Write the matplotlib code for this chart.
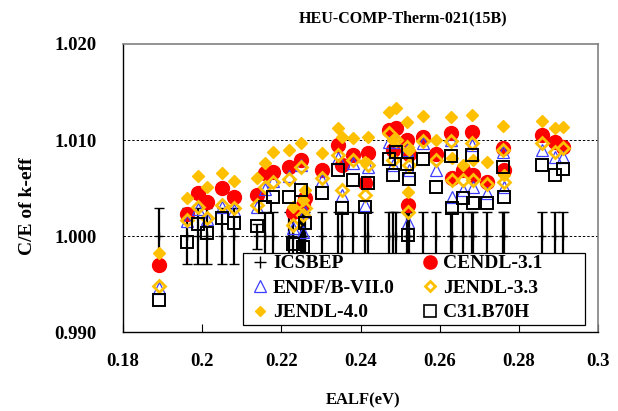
import matplotlib
matplotlib.use("Agg")
import matplotlib.pyplot as plt
from matplotlib.lines import Line2D
from matplotlib.patches import Rectangle

plt.rcParams['font.family'] = ['Liberation Serif', 'DejaVu Serif']
plt.rcParams['font.weight'] = 'bold'

# Energy of average lethargy causing fission (eV) for each benchmark case
ealf = [0.1891, 0.1962, 0.1989, 0.2012, 0.2050, 0.2080, 0.2138, 0.2159, 0.2179, 0.2219,
        0.2229, 0.2249, 0.2254, 0.2260, 0.2302, 0.2343, 0.2353, 0.2381, 0.2411, 0.2419,
        0.2472, 0.2482, 0.2489, 0.2517, 0.2520, 0.2522, 0.2558, 0.2590, 0.2628, 0.2631,
        0.2659, 0.2681, 0.2684, 0.2719, 0.2760, 0.2762, 0.2858, 0.2891, 0.2911]

# Benchmark (experimental) k-eff normalised to 1 and its uncertainty
icsbep = [1.0, 1.0, 1.0, 1.0, 1.0, 1.0, 1.0, 1.0, 1.0, 1.0,
          1.0, 1.0, 1.0, 1.0, 1.0, 1.0, 1.0, 1.0, 1.0, 1.0,
          1.0, 1.0, 1.0, 1.0, 1.0, 1.0, 1.0, 1.0, 1.0, 1.0,
          1.0, 1.0, 1.0, 1.0, 1.0, 1.0, 1.0, 1.0, 1.0]
icsbep_unc = [0.0029, 0.0029, 0.0029, 0.0029, 0.0029, 0.0029, 0.0013, 0.0025, 0.0025, 0.0025,
              0.0025, 0.0025, 0.0025, 0.0025, 0.0025, 0.0025, 0.0025, 0.0025, 0.0025, 0.0025,
              0.0025, 0.0025, 0.0025, 0.0025, 0.0025, 0.0025, 0.0025, 0.0025, 0.0025, 0.0025,
              0.0025, 0.0025, 0.0025, 0.0025, 0.0025, 0.0025, 0.0025, 0.0025, 0.0025]

cendl31 = [0.9970, 1.0023, 1.0045, 1.0035, 1.0050, 1.0041, 1.0043, 1.0066, 1.0067, 1.0072,
           1.0025, 1.0079, 1.0032, 1.0040, 1.0069, 1.0095, 1.0074, 1.0084, 1.0055, 1.0086,
           1.0110, 1.0090, 1.0113, 1.0100, 1.0032, 1.0085, 1.0103, 1.0085, 1.0107, 1.0060,
           1.0069, 1.0108, 1.0064, 1.0056, 1.0092, 1.0069, 1.0105, 1.0098, 1.0093]

endf70 = [0.9946, 1.0016, 1.0028, 1.0018, 1.0030, 1.0027, 1.0030, 1.0049, 1.0057, 1.0063,
          1.0008, 1.0074, 1.0004, 1.0025, 1.0058, 1.0081, 1.0043, 1.0076, 1.0032, 1.0072,
          1.0098, 1.0074, 1.0098, 1.0090, 1.0015, 1.0069, 1.0097, 1.0069, 1.0100, 1.0041,
          1.0048, 1.0095, 1.0051, 1.0045, 1.0088, 1.0051, 1.0090, 1.0082, 1.0082]

jendl33 = [0.9948, 1.0017, 1.0030, 1.0019, 1.0032, 1.0029, 1.0032, 1.0051, 1.0056, 1.0059,
           1.0011, 1.0072, 1.0022, 1.0029, 1.0060, 1.0084, 1.0048, 1.0079, 1.0043, 1.0074,
           1.0107, 1.0079, 1.0100, 1.0093, 1.0025, 1.0074, 1.0099, 1.0079, 1.0099, 1.0058,
           1.0058, 1.0097, 1.0058, 1.0054, 1.0090, 1.0056, 1.0097, 1.0088, 1.0092]

jendl40 = [0.9982, 1.0040, 1.0063, 1.0051, 1.0066, 1.0057, 1.0060, 1.0076, 1.0088, 1.0090,
           1.0030, 1.0097, 1.0038, 1.0048, 1.0086, 1.0113, 1.0103, 1.0102, 1.0077, 1.0103,
           1.0129, 1.0100, 1.0133, 1.0119, 1.0046, 1.0090, 1.0125, 1.0100, 1.0124, 1.0081,
           1.0074, 1.0126, 1.0079, 1.0077, 1.0115, 1.0064, 1.0120, 1.0113, 1.0114]

c31_b70h = [0.9933, 0.9994, 1.0013, 1.0003, 1.0019, 1.0014, 1.0010, 1.0030, 1.0041, 1.0041,
            0.9992, 1.0048, 0.9989, 1.0014, 1.0045, 1.0069, 1.0029, 1.0058, 1.0030, 1.0055,
            1.0080, 1.0064, 1.0088, 1.0075, 1.0001, 1.0059, 1.0080, 1.0051, 1.0083, 1.0029,
            1.0040, 1.0084, 1.0034, 1.0034, 1.0072, 1.0041, 1.0074, 1.0064, 1.0070]

x_ticks = [0.18, 0.2, 0.22, 0.24, 0.26, 0.28, 0.3]
x_tick_labels = ['0.18', '0.2', '0.22', '0.24', '0.26', '0.28', '0.3']
y_ticks = [0.990, 1.000, 1.010, 1.020]
y_tick_labels = ['0.990', '1.000', '1.010', '1.020']

GOLD = '#FFC000'
BLUE = '#3C3CFF'

fig = plt.figure(figsize=(6.18, 4.11), dpi=100)
ax = fig.add_axes([0.199, 0.192, 0.769, 0.701])

ax.errorbar(ealf, icsbep, yerr=icsbep_unc, fmt='+', color='black', ms=6, mew=1.0,
            elinewidth=1.6, capsize=3.5, capthick=1.6, zorder=2)
ax.plot(ealf, cendl31, 'o', color='red', mec='red', ms=10, zorder=3)
ax.plot(ealf, endf70, '^', mfc='none', mec=BLUE, mew=0.9, ms=8.5, zorder=4)
ax.plot(ealf, jendl33, 'D', mfc='none', mec=GOLD, mew=2.0, ms=6.3, zorder=5)
ax.plot(ealf, jendl40, 'D', color=GOLD, mec=GOLD, ms=6.5, zorder=6)
ax.plot(ealf, c31_b70h, 's', mfc='none', mec='black', mew=1.4, ms=9, zorder=7)

ax.set_xlim(0.18, 0.3)
ax.set_ylim(0.990, 1.020)
ax.set_xticks(x_ticks)
ax.set_xticklabels(x_tick_labels, fontsize=13.5, fontweight='bold')
ax.set_yticks(y_ticks)
ax.set_yticklabels(y_tick_labels, fontsize=13.5, fontweight='bold')
ax.tick_params(axis='x', direction='in', length=6, width=0.8, pad=15)
ax.tick_params(axis='y', length=0, pad=19)

for yv in [1.000, 1.010]:
    ax.axhline(yv, color='black', lw=0.7, ls=(0, (2.5, 2)), zorder=1)

for side in ['top', 'right']:
    ax.spines[side].set_color('#808080')
    ax.spines[side].set_linewidth(1.2)
for side in ['left', 'bottom']:
    ax.spines[side].set_color('black')
    ax.spines[side].set_linewidth(1.0)

# legend box
ax.add_patch(Rectangle((0.253, 0.024), 0.72, 0.25, transform=ax.transAxes,
                       facecolor='white', edgecolor='black', lw=0.9, zorder=10))

handles = [
    Line2D([], [], ls='none', marker='+', color='black', ms=9, mew=1.0),
    Line2D([], [], ls='none', marker='^', mfc='none', mec=BLUE, mew=0.9, ms=8.5),
    Line2D([], [], ls='none', marker='D', color=GOLD, ms=5.5),
    Line2D([], [], ls='none', marker='o', color='red', ms=9.5),
    Line2D([], [], ls='none', marker='D', mfc='none', mec=GOLD, mew=2.0, ms=5.5),
    Line2D([], [], ls='none', marker='s', mfc='none', mec='black', mew=1.2, ms=8.5),
]
labels = ['ICSBEP', 'ENDF/B-VII.0', 'JENDL-4.0', 'CENDL-3.1', 'JENDL-3.3', 'C31.B70H']
leg = ax.legend(handles, labels, ncol=2, loc='upper left',
                bbox_to_anchor=(0.275, 0.268), frameon=False,
                prop={'family': 'Liberation Serif', 'weight': 'bold', 'size': 14},
                handlelength=0.7, handletextpad=0.3, columnspacing=1.45,
                labelspacing=0.35, borderpad=0, borderaxespad=0)
leg.set_zorder(11)

fig.text(403 / 618, 1 - 18 / 411, 'HEU-COMP-Therm-021(15B)', ha='center', va='center',
         fontsize=11.5, fontweight='bold')
fig.text(28 / 618, 1 - 206 / 411, 'C/E of k-eff', rotation=90, ha='center', va='center',
         fontsize=14, fontweight='bold')
fig.text(363 / 618, 1 - 400 / 411, 'EALF(eV)', ha='center', va='center',
         fontsize=12, fontweight='bold')

fig.savefig('out.png', dpi=100)
